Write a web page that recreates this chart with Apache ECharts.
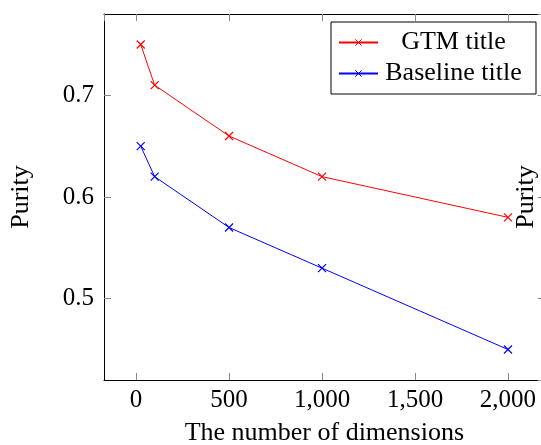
<!DOCTYPE html>
<html>
<head>
<meta charset="utf-8">
<script src="https://cdn.jsdelivr.net/npm/echarts@6/dist/echarts.min.js"></script>
<style>html,body{margin:0;padding:0;background:#fff;}#c{width:541px;height:445px;}</style>
</head>
<body>
<div id="c"></div>
<script>
const dims = [25, 100, 500, 1000, 2000];
const gtmTitle = [0.75, 0.71, 0.66, 0.62, 0.58];
const baselineTitle = [0.65, 0.62, 0.57, 0.53, 0.45];
const seriesNames = ['GTM title', 'Baseline title'];
const xName = 'The number of dimensions';
const yName = 'Purity';

const FONT = '"Liberation Serif", "Times New Roman", serif';
const cross = 'path://M0,0L10,10M0,10L10,0';
const chart = echarts.init(document.getElementById('c'), null, {renderer: 'canvas'});
const xMin = -172.5, xMax = 2197.5, yMin = 0.42, yMax = 0.78;
const tickStyle = {show: true, inside: true, length: 7, lineStyle: {color: '#888', width: 1}};
const axisLine = {show: true, onZero: false, lineStyle: {color: '#000', width: 1}};

function mk(name, ys, color) {
  return {
    name: name, type: 'line', xAxisIndex: 0, yAxisIndex: 0,
    data: dims.map((d, i) => [d, ys[i]]),
    symbol: cross, symbolSize: 8, showAllSymbol: true,
    lineStyle: {color: color, width: 1},
    itemStyle: {color: 'none', borderColor: color, borderWidth: 1.2},
    emphasis: {disabled: true}, animation: false
  };
}

chart.setOption({
  animation: false,
  grid: {left: 104, top: 14, width: 440.7, height: 366, containLabel: false, outerBoundsMode: 'none'},
  legend: {
    show: true, orient: 'vertical', left: 331, top: 22,
    padding: [7, 12, 7, 7], itemGap: 4, itemWidth: 39, itemHeight: 8,
    borderColor: '#000', borderWidth: 1, backgroundColor: '#fff',
    itemStyle: {borderWidth: 1},
    data: seriesNames,
    formatter: n => '{c|' + n + '}',
    textStyle: {fontFamily: FONT, fontSize: 26, color: '#000',
      rich: {c: {width: 141, height: 27, lineHeight: 27, align: 'center', fontFamily: FONT, fontSize: 26, color: '#000'}}}
  },
  xAxis: [{
    type: 'value', min: xMin, max: xMax, position: 'bottom',
    name: xName, nameLocation: 'middle', nameGap: 40,
    nameTextStyle: {fontFamily: FONT, fontSize: 26, color: '#000'},
    axisLine: axisLine, axisTick: tickStyle, splitLine: {show: false},
    axisLabel: {fontFamily: FONT, fontSize: 25, color: '#000', margin: 8,
      showMinLabel: false, showMaxLabel: false,
      formatter: v => v.toLocaleString('en-US')}
  }, {
    type: 'value', min: xMin, max: xMax, position: 'top',
    axisLine: axisLine, axisTick: tickStyle, splitLine: {show: false},
    axisLabel: {show: false}
  }],
  yAxis: [{
    type: 'value', min: yMin, max: yMax, position: 'left',
    name: yName, nameLocation: 'middle', nameGap: 70,
    nameTextStyle: {fontFamily: FONT, fontSize: 26, color: '#000'},
    axisLine: axisLine, axisTick: tickStyle, splitLine: {show: false},
    axisLabel: {fontFamily: FONT, fontSize: 25, color: '#000', margin: 10,
      showMinLabel: false, showMaxLabel: false,
      formatter: v => v.toFixed(1)}
  }, {
    type: 'value', min: yMin, max: yMax, position: 'right',
    name: yName, nameLocation: 'middle', nameGap: -32, nameRotate: 90,
    nameTextStyle: {fontFamily: FONT, fontSize: 26, color: '#000'},
    axisLine: axisLine, axisTick: tickStyle, splitLine: {show: false},
    axisLabel: {show: false}
  }],
  series: [mk(seriesNames[0], gtmTitle, '#ff0000'), mk(seriesNames[1], baselineTitle, '#0000ff')]
});
</script>
</body>
</html>
